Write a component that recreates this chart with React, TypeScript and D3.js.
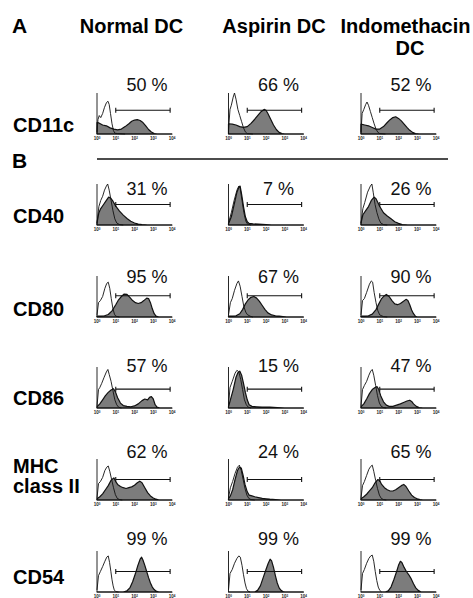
import React from "react";
import * as d3 from "d3";

type Pt = [number, number];

const columns = ["Normal DC", "Aspirin DC", "Indomethacin DC"];
const markers = ["CD11c", "CD40", "CD80", "CD86", "MHC class II", "CD54"];
const percentages = [
  [50, 66, 52],
  [31, 7, 26],
  [95, 67, 90],
  [57, 15, 47],
  [62, 24, 65],
  [99, 99, 99],
];
const decades = [0, 1, 2, 3, 4];
const gateRange = [1.0, 3.9];
const gateLevels = [0.58, 0.5, 0.52, 0.46, 0.5, 0.5];

// log10 fluorescence, relative count
const cd11cIsotype: Pt[][] = [
  [[0,0.05],[0.05,0.35],[0.12,0.45],[0.2,0.4],[0.3,0.5],[0.4,0.65],[0.5,0.76],[0.58,0.8],[0.65,0.72],[0.72,0.5],[0.8,0.25],[0.88,0.08],[0.95,0.02],[1.1,0.01],[1.5,0]],
  [[0,0.1],[0.08,0.6],[0.15,0.7],[0.25,0.9],[0.32,1.0],[0.4,0.85],[0.5,0.6],[0.6,0.45],[0.7,0.3],[0.8,0.15],[0.9,0.05],[1.0,0.01],[1.3,0]],
  [[0,0.05],[0.06,0.5],[0.15,0.6],[0.25,0.72],[0.32,0.78],[0.4,0.7],[0.5,0.55],[0.6,0.4],[0.7,0.25],[0.8,0.12],[0.9,0.04],[1.0,0.01],[1.3,0]],
];
const cd11cStained: Pt[][] = [
  [[0,0.28],[0.1,0.27],[0.3,0.22],[0.5,0.2],[0.7,0.15],[0.9,0.12],[1.1,0.1],[1.3,0.12],[1.5,0.18],[1.7,0.25],[1.85,0.31],[2.0,0.34],[2.15,0.35],[2.3,0.33],[2.45,0.28],[2.6,0.2],[2.75,0.11],[2.9,0.05],[3.05,0.01],[3.2,0],[4,0]],
  [[0,0.25],[0.2,0.24],[0.4,0.22],[0.6,0.18],[0.8,0.16],[1.0,0.18],[1.2,0.26],[1.4,0.36],[1.6,0.47],[1.75,0.55],[1.9,0.6],[2.0,0.58],[2.1,0.5],[2.25,0.36],[2.4,0.22],[2.55,0.11],[2.7,0.04],[2.85,0.01],[3.0,0],[4,0]],
  [[0,0.24],[0.2,0.22],[0.4,0.2],[0.6,0.16],[0.8,0.12],[1.0,0.12],[1.2,0.18],[1.4,0.28],[1.55,0.35],[1.7,0.4],[1.85,0.42],[2.0,0.38],[2.15,0.32],[2.3,0.24],[2.45,0.16],[2.6,0.09],[2.75,0.04],[2.9,0.01],[3.1,0],[4,0]],
];
const cd40Isotype: Pt[][] = [
  [[0,0.05],[0.1,0.45],[0.2,0.6],[0.3,0.7],[0.4,0.85],[0.5,0.95],[0.57,1.0],[0.65,0.85],[0.75,0.6],[0.85,0.35],[0.95,0.15],[1.05,0.05],[1.2,0.01],[1.4,0]],
  [[0,0.05],[0.15,0.3],[0.3,0.6],[0.45,0.85],[0.55,0.95],[0.62,0.9],[0.72,0.6],[0.82,0.3],[0.92,0.1],[1.0,0.03],[1.2,0]],
  [[0,0.05],[0.1,0.4],[0.2,0.55],[0.35,0.8],[0.5,0.95],[0.58,1.0],[0.65,0.8],[0.75,0.5],[0.85,0.3],[0.95,0.15],[1.05,0.05],[1.2,0.01],[1.4,0]],
];
const cd40Stained: Pt[][] = [
  [[0,0.05],[0.1,0.3],[0.2,0.4],[0.35,0.5],[0.5,0.6],[0.62,0.68],[0.72,0.66],[0.85,0.58],[1.0,0.46],[1.2,0.34],[1.4,0.24],[1.6,0.16],[1.8,0.09],[2.0,0.05],[2.2,0.02],[2.4,0.01],[2.7,0],[4,0]],
  [[0,0.03],[0.15,0.2],[0.3,0.5],[0.45,0.8],[0.55,0.92],[0.62,0.95],[0.7,0.75],[0.8,0.45],[0.9,0.2],[1.0,0.08],[1.1,0.04],[1.3,0.03],[1.6,0.02],[2.0,0.01],[2.3,0],[4,0]],
  [[0,0.05],[0.1,0.25],[0.25,0.35],[0.4,0.45],[0.55,0.6],[0.7,0.68],[0.8,0.64],[0.9,0.55],[1.0,0.45],[1.2,0.3],[1.4,0.22],[1.6,0.15],[1.8,0.08],[2.0,0.04],[2.2,0.01],[2.5,0],[4,0]],
];
const cd80Isotype: Pt[][] = [
  [[0,0.05],[0.08,0.35],[0.18,0.4],[0.3,0.5],[0.42,0.7],[0.52,0.82],[0.6,0.85],[0.68,0.7],[0.76,0.45],[0.85,0.2],[0.93,0.07],[1.0,0.02],[1.2,0]],
  [[0,0.05],[0.1,0.35],[0.2,0.45],[0.32,0.65],[0.45,0.82],[0.53,0.88],[0.62,0.75],[0.72,0.5],[0.82,0.25],[0.92,0.12],[1.0,0.06],[1.15,0.02],[1.3,0]],
  [[0,0.05],[0.08,0.4],[0.18,0.45],[0.3,0.6],[0.45,0.8],[0.55,0.88],[0.62,0.85],[0.7,0.6],[0.8,0.35],[0.9,0.15],[1.0,0.05],[1.2,0.01],[1.4,0]],
];
const cd80Stained: Pt[][] = [
  [[0,0.02],[0.4,0.03],[0.6,0.06],[0.8,0.15],[1.0,0.3],[1.15,0.42],[1.3,0.5],[1.45,0.56],[1.6,0.55],[1.75,0.48],[1.9,0.4],[2.05,0.35],[2.2,0.33],[2.35,0.35],[2.5,0.4],[2.65,0.46],[2.75,0.45],[2.85,0.35],[2.95,0.2],[3.05,0.08],[3.15,0.02],[3.3,0],[4,0]],
  [[0,0.02],[0.4,0.03],[0.6,0.08],[0.75,0.18],[0.9,0.32],[1.05,0.42],[1.2,0.48],[1.35,0.5],[1.5,0.46],[1.65,0.38],[1.8,0.28],[1.95,0.18],[2.1,0.1],[2.3,0.05],[2.5,0.03],[2.7,0.02],[2.9,0.01],[3.1,0],[4,0]],
  [[0,0.02],[0.4,0.03],[0.6,0.07],[0.8,0.18],[0.95,0.32],[1.1,0.45],[1.25,0.52],[1.35,0.55],[1.5,0.5],[1.65,0.4],[1.8,0.32],[1.95,0.3],[2.1,0.33],[2.25,0.38],[2.4,0.43],[2.5,0.4],[2.6,0.3],[2.7,0.17],[2.8,0.08],[2.9,0.02],[3.0,0],[4,0]],
];
const cd86Isotype: Pt[][] = [
  [[0,0.05],[0.08,0.45],[0.15,0.5],[0.25,0.6],[0.38,0.75],[0.5,0.88],[0.58,0.94],[0.65,0.82],[0.75,0.65],[0.85,0.42],[0.95,0.2],[1.05,0.08],[1.15,0.02],[1.3,0]],
  [[0,0.05],[0.08,0.5],[0.2,0.65],[0.35,0.85],[0.45,0.92],[0.55,0.88],[0.65,0.7],[0.75,0.45],[0.85,0.2],[0.95,0.08],[1.05,0.02],[1.2,0]],
  [[0,0.05],[0.08,0.45],[0.18,0.55],[0.3,0.65],[0.42,0.8],[0.52,0.9],[0.6,0.94],[0.68,0.8],[0.78,0.55],[0.88,0.3],[0.98,0.12],[1.08,0.04],[1.2,0.01],[1.35,0]],
];
const cd86Stained: Pt[][] = [
  [[0,0.03],[0.15,0.1],[0.3,0.2],[0.45,0.3],[0.6,0.38],[0.75,0.44],[0.88,0.47],[0.98,0.4],[1.1,0.25],[1.25,0.12],[1.4,0.06],[1.6,0.04],[1.8,0.03],[2.0,0.05],[2.2,0.1],[2.4,0.18],[2.55,0.22],[2.7,0.2],[2.8,0.26],[2.9,0.28],[3.0,0.22],[3.1,0.08],[3.2,0.02],[3.35,0],[4,0]],
  [[0,0.03],[0.1,0.2],[0.25,0.45],[0.4,0.75],[0.5,0.86],[0.6,0.9],[0.7,0.8],[0.8,0.6],[0.9,0.38],[1.0,0.2],[1.1,0.08],[1.25,0.04],[1.5,0.03],[1.8,0.02],[2.2,0.02],[2.6,0.01],[3.0,0],[4,0]],
  [[0,0.03],[0.15,0.1],[0.3,0.22],[0.45,0.35],[0.6,0.45],[0.75,0.5],[0.86,0.52],[0.95,0.45],[1.05,0.3],[1.2,0.15],[1.35,0.07],[1.5,0.04],[1.7,0.04],[1.9,0.07],[2.1,0.1],[2.3,0.14],[2.45,0.17],[2.6,0.19],[2.7,0.16],[2.8,0.1],[2.95,0.04],[3.1,0.01],[3.3,0],[4,0]],
];
const mhcIsotype: Pt[][] = [
  [[0,0.05],[0.08,0.4],[0.18,0.45],[0.3,0.55],[0.42,0.72],[0.52,0.8],[0.6,0.83],[0.68,0.7],[0.78,0.5],[0.88,0.3],[0.98,0.13],[1.08,0.04],[1.2,0.01],[1.35,0]],
  [[0,0.05],[0.1,0.3],[0.22,0.45],[0.35,0.65],[0.48,0.8],[0.58,0.85],[0.68,0.72],[0.78,0.5],[0.88,0.28],[0.98,0.12],[1.08,0.04],[1.2,0.01],[1.4,0]],
  [[0,0.05],[0.08,0.35],[0.18,0.45],[0.3,0.6],[0.42,0.75],[0.52,0.82],[0.6,0.85],[0.68,0.7],[0.78,0.48],[0.88,0.28],[0.98,0.12],[1.08,0.04],[1.2,0.01],[1.35,0]],
];
const mhcStained: Pt[][] = [
  [[0,0.03],[0.15,0.08],[0.3,0.15],[0.45,0.25],[0.6,0.35],[0.75,0.48],[0.9,0.54],[1.0,0.45],[1.1,0.38],[1.25,0.33],[1.4,0.3],[1.55,0.28],[1.7,0.3],[1.85,0.32],[2.0,0.36],[2.15,0.42],[2.28,0.46],[2.4,0.42],[2.55,0.3],[2.7,0.18],[2.85,0.1],[3.0,0.05],[3.15,0.02],[3.3,0],[4,0]],
  [[0,0.03],[0.1,0.1],[0.22,0.25],[0.35,0.5],[0.48,0.72],[0.58,0.8],[0.68,0.78],[0.78,0.6],[0.88,0.38],[1.0,0.2],[1.1,0.12],[1.25,0.1],[1.4,0.08],[1.6,0.06],[1.8,0.04],[2.0,0.03],[2.2,0.02],[2.5,0.01],[2.8,0],[4,0]],
  [[0,0.03],[0.15,0.08],[0.3,0.14],[0.45,0.22],[0.6,0.3],[0.75,0.42],[0.9,0.5],[1.0,0.47],[1.1,0.38],[1.25,0.3],[1.4,0.25],[1.55,0.22],[1.7,0.22],[1.85,0.25],[2.0,0.3],[2.15,0.35],[2.28,0.38],[2.4,0.33],[2.55,0.22],[2.7,0.12],[2.85,0.06],[3.0,0.03],[3.15,0.01],[3.3,0],[4,0]],
];
const cd54Isotype: Pt[][] = [
  [[0,0.05],[0.08,0.4],[0.18,0.5],[0.3,0.62],[0.42,0.75],[0.52,0.85],[0.6,0.88],[0.67,0.72],[0.74,0.5],[0.8,0.3],[0.86,0.15],[0.92,0.05],[1.0,0.01],[1.15,0]],
  [[0,0.05],[0.08,0.45],[0.2,0.55],[0.32,0.7],[0.45,0.82],[0.55,0.88],[0.63,0.85],[0.72,0.65],[0.8,0.42],[0.88,0.22],[0.96,0.08],[1.04,0.02],[1.15,0]],
  [[0,0.05],[0.08,0.45],[0.18,0.55],[0.3,0.7],[0.42,0.82],[0.52,0.88],[0.6,0.9],[0.68,0.75],[0.76,0.5],[0.84,0.28],[0.92,0.12],[1.0,0.04],[1.1,0]],
];
const cd54Stained: Pt[][] = [
  [[0,0],[1.4,0],[1.6,0.03],[1.75,0.1],[1.9,0.25],[2.05,0.45],[2.18,0.65],[2.3,0.8],[2.38,0.85],[2.45,0.78],[2.55,0.65],[2.65,0.5],[2.75,0.35],[2.85,0.22],[2.95,0.12],[3.05,0.06],[3.15,0.02],[3.3,0],[4,0]],
  [[0,0],[1.4,0],[1.55,0.04],[1.7,0.15],[1.85,0.35],[2.0,0.55],[2.12,0.7],[2.22,0.8],[2.3,0.76],[2.4,0.6],[2.5,0.4],[2.6,0.22],[2.7,0.1],[2.8,0.04],[2.9,0.01],[3.0,0],[4,0]],
  [[0,0],[1.3,0],[1.45,0.03],[1.6,0.12],[1.75,0.3],[1.9,0.5],[2.0,0.65],[2.1,0.75],[2.18,0.72],[2.3,0.6],[2.42,0.5],[2.55,0.42],[2.68,0.32],[2.8,0.2],[2.92,0.1],[3.05,0.04],[3.2,0],[4,0]],
];

const isotypeRows = [cd11cIsotype, cd40Isotype, cd80Isotype, cd86Isotype, mhcIsotype, cd54Isotype];
const stainedRows = [cd11cStained, cd40Stained, cd80Stained, cd86Stained, mhcStained, cd54Stained];

// layout
const W = 473;
const H = 598;
const FONT = "'Liberation Sans', Arial, Helvetica, sans-serif";
const colX = [97, 228.5, 361];
const panelW = 75;
const panelH = 41;
const rowBase = [134, 225, 317, 408, 500, 592];
const pctBase = [91, 195, 283, 372, 458, 545];
const labelBase = [132, 223, 316, 405, 473, 584];

export default function App() {
  const x = d3.scaleLinear().domain([0, 4]).range([0, panelW]);
  const y = d3.scaleLinear().domain([0, 1]).range([panelH, 0]);
  const area = d3
    .area<Pt>()
    .x((d) => x(d[0]))
    .y0(y(0))
    .y1((d) => y(d[1]))
    .curve(d3.curveLinear);
  const line = d3
    .line<Pt>()
    .x((d) => x(d[0]))
    .y((d) => y(d[1]))
    .curve(d3.curveLinear);

  return (
    <svg
      width={W}
      height={H}
      style={{ position: "absolute", left: 0, top: 0, background: "#fff" }}
      fontFamily={FONT}
    >
      <rect width={W} height={H} fill="#fff" />
      {/* panel letters */}
      <text x={12} y={33} fontSize={21} fontWeight="bold">A</text>
      <text x={12} y={168} fontSize={21} fontWeight="bold">B</text>
      <line x1={97} x2={448} y1={159} y2={159} stroke="#111" strokeWidth={1.6} />

      {/* column titles */}
      <text x={131.5} y={33} fontSize={20} fontWeight="bold" textAnchor="middle">{columns[0]}</text>
      <text x={274} y={33} fontSize={20} fontWeight="bold" textAnchor="middle">{columns[1]}</text>
      <text x={405.5} y={33} fontSize={20} fontWeight="bold" textAnchor="middle">{columns[2].split(" ")[0]}</text>
      <text x={410} y={55} fontSize={20} fontWeight="bold" textAnchor="middle">{columns[2].split(" ")[1]}</text>

      {/* row labels */}
      {markers.map((m, r) =>
        m.startsWith("MHC") ? (
          <g key={m}>
            <text x={13} y={labelBase[r]} fontSize={20} fontWeight="bold">MHC</text>
            <text x={13} y={labelBase[r] + 20} fontSize={20} fontWeight="bold">class II</text>
          </g>
        ) : (
          <text key={m} x={13} y={labelBase[r]} fontSize={20} fontWeight="bold">{m}</text>
        )
      )}

      {/* panels */}
      {rowBase.map((base, r) =>
        colX.map((cx, c) => {
          const top = base - panelH;
          const gy = y(gateLevels[r]);
          return (
            <g key={`${r}-${c}`} transform={`translate(${cx},${top})`}>
              <path d={area(stainedRows[r][c]) || ""} fill="#7c7c7c" stroke="#111" strokeWidth={1.2} strokeLinejoin="round" />
              <path d={line(isotypeRows[r][c]) || ""} fill="none" stroke="#111" strokeWidth={0.9} strokeLinejoin="round" />
              <line x1={0} x2={0} y1={0} y2={panelH} stroke="#111" strokeWidth={0.9} />
              <line x1={0} x2={panelW} y1={panelH} y2={panelH} stroke="#111" strokeWidth={0.9} />
              <line x1={x(gateRange[0])} x2={x(gateRange[1])} y1={gy} y2={gy} stroke="#111" strokeWidth={1.1} />
              <line x1={x(gateRange[0])} x2={x(gateRange[0])} y1={gy - 2.5} y2={gy + 2.5} stroke="#111" strokeWidth={1.1} />
              <line x1={x(gateRange[1])} x2={x(gateRange[1])} y1={gy - 2.5} y2={gy + 2.5} stroke="#111" strokeWidth={1.1} />
              {decades.map((d) => (
                <text key={d} x={x(d)} y={panelH + 6} fontSize={4.5} fontWeight="bold" textAnchor="middle" fill="#222">
                  10<tspan fontSize={3} dy={-1.5}>{d}</tspan>
                </text>
              ))}
              <text x={50} y={pctBase[r] - top} fontSize={18} textAnchor="middle" fill="#111">
                {`${percentages[r][c]} %`}
              </text>
            </g>
          );
        })
      )}
    </svg>
  );
}
